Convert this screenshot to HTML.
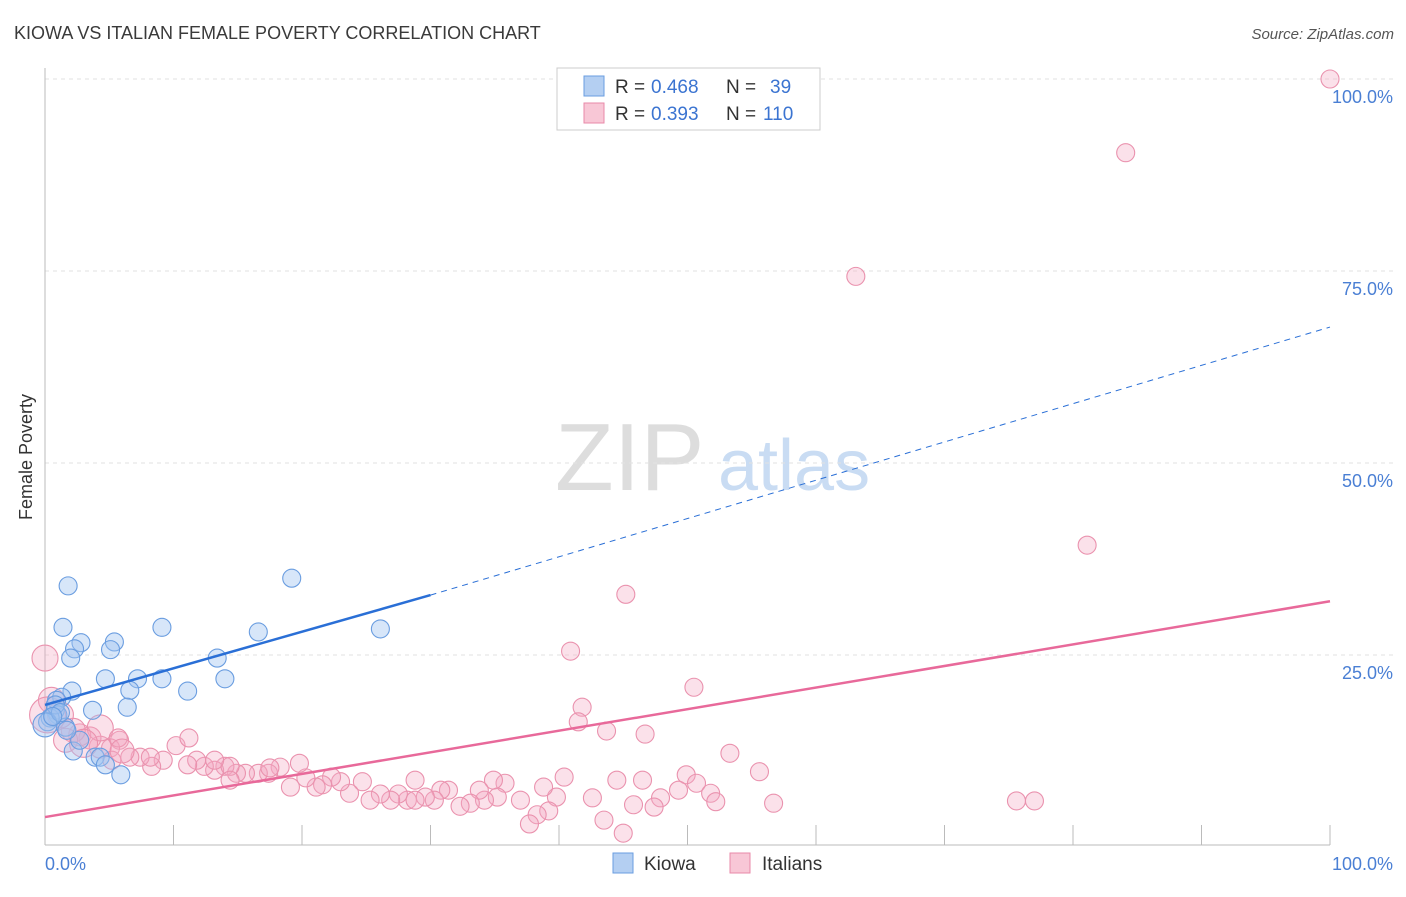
<!DOCTYPE html>
<html><head><meta charset="utf-8"><style>
body{margin:0;background:#fff;font-family:"Liberation Sans",sans-serif;}
svg text{font-family:"Liberation Sans",sans-serif;}
</style></head><body>
<svg id="c" width="1406" height="892" xmlns="http://www.w3.org/2000/svg">
<text x="14" y="39" font-size="18" fill="#3a3a3a">KIOWA VS ITALIAN FEMALE POVERTY CORRELATION CHART</text>
<text x="1394" y="39" font-size="15" fill="#555" text-anchor="end" font-style="italic">Source: ZipAtlas.com</text>
<text x="32" y="457" font-size="18" fill="#333" text-anchor="middle" transform="rotate(-90 32 457)">Female Poverty</text>
<text x="555" y="490" font-size="96" fill="#ddd" font-family="Liberation Serif">ZIP</text>
<text x="718" y="490" font-size="72" fill="#c9dcf3">atlas</text>
<g id="grid"></g><g id="axes"></g><g id="pts"></g><g id="lines"></g>
<g>
<rect x="557" y="68" width="263" height="62" fill="#fff" stroke="#ccc"/>
<rect x="584" y="76" width="20" height="20" fill="#b4cff2" stroke="#6a9de0"/>
<text y="93" font-size="19" fill="#333"><tspan x="615">R =</tspan><tspan x="651" fill="#3b74d1">0.468</tspan><tspan x="726">N =</tspan><tspan x="770" fill="#3b74d1">39</tspan></text>
<rect x="584" y="103" width="20" height="20" fill="#f8c7d6" stroke="#e88aa8"/>
<text y="120" font-size="19" fill="#333"><tspan x="615">R =</tspan><tspan x="651" fill="#3b74d1">0.393</tspan><tspan x="726">N =</tspan><tspan x="763" fill="#3b74d1">110</tspan></text>
</g>
<g>
<rect x="613" y="853" width="20" height="20" fill="#b4cff2" stroke="#6a9de0"/>
<text x="644" y="870" font-size="19" fill="#333">Kiowa</text>
<rect x="730" y="853" width="20" height="20" fill="#f8c7d6" stroke="#e88aa8"/>
<text x="762" y="870" font-size="19" fill="#333">Italians</text>
</g>
</svg>
<script>
const yTicks=[0,25,50,75,100];
const yTickLabels=["","25.0%","50.0%","75.0%","100.0%"];
const xTickLabels=["0.0%","100.0%"];
const kiowaX=[1.8,1.4,2.8,5.4,2.3,5.1,2.0,9.1,16.6,19.2,26.1,13.4,4.7,7.2,9.1,6.6,11.1,14.0,2.1,1.3,3.7,6.4,0.9,0.8,1.0,0.4,0.2,1.6,2.2,3.9,4.3,4.7,5.9,2.7,0,0.8,1.2,0.6,1.7];
const kiowaY=[34.0,28.6,26.6,26.7,25.8,25.7,24.6,28.6,28.0,35.0,28.4,24.6,21.9,21.9,21.9,20.4,20.3,21.9,20.3,19.5,17.8,18.2,19.1,17.8,17.2,16.8,16.3,15.6,12.5,11.7,11.7,10.7,9.4,13.9,15.9,18.5,17.5,17.0,15.2];
const italX=[100,84.1,63.1,81.1,45.2,40.9,41.8,41.5,43.7,46.7,50.5,53.3,55.6,56.7,75.6,77.0,49.9,50.7,51.8,52.2,49.3,47.9,47.4,46.5,45.8,45.0,44.5,43.5,42.6,40.4,39.8,39.2,38.3,37.7,38.8,37.0,35.8,34.9,35.2,34.2,33.8,33.1,32.3,31.4,30.8,30.3,29.6,28.8,28.2,27.5,26.9,26.1,25.3,24.7,23.7,23.0,22.3,21.6,21.1,20.3,19.8,19.1,18.3,17.4,16.6,15.6,14.9,14.0,13.2,12.4,11.8,11.1,10.2,9.2,8.3,7.4,6.6,5.8,5.1,4.3,3.5,2.7,2.2,1.2,0.5,0,0.2,1.6,14.4,11.2,17.5,13.2,28.8,14.4,8.2,4.3,5.2,5.7,3.0,6.0];
const italY=[100,90.4,74.3,39.3,32.9,25.5,18.2,16.3,15.1,14.7,20.8,12.2,9.8,5.7,6.0,6.0,9.4,8.3,7.0,5.9,7.4,6.4,5.2,8.7,5.5,1.8,8.7,3.5,6.4,9.1,6.5,4.7,4.2,3.0,7.8,6.1,8.3,8.7,6.5,6.1,7.4,5.7,5.3,7.4,7.4,6.1,6.5,8.7,6.1,6.9,6.1,6.9,6.1,8.5,7.0,8.5,9.1,8.1,7.8,9.0,10.9,7.8,10.4,9.6,9.6,9.6,9.6,10.5,10.0,10.5,11.3,10.7,13.2,11.3,10.5,11.7,11.7,13.9,12.9,13.0,14.2,14.6,15.2,17.2,19.1,24.6,17.2,13.9,10.5,14.2,10.3,11.3,6.1,8.7,11.7,15.5,11.3,14.2,13.5,12.5];
const italR=[9,9,9,9,9,9,9,9,9,9,9,9,9,9,9,9,9,9,9,9,9,9,9,9,9,9,9,9,9,9,9,9,9,9,9,9,9,9,9,9,9,9,9,9,9,9,9,9,9,9,9,9,9,9,9,9,9,9,9,9,9,9,9,9,9,9,9,9,9,9,9,9,9,9,9,9,9,9,9,11,11,11,12,13,13,13,18,12,9,9,9,9,9,9,9,13,9,9,14,12];
const kiowaTrend=[18.5,32.8,67.7];
const italTrend=[3.9,32.0];
const X=v=>45+v*12.85, Y=v=>847-v*7.68;
const NS="http://www.w3.org/2000/svg";
function mk(p,t,a){const e=document.createElementNS(NS,t);for(const k in a)e.setAttribute(k,a[k]);document.getElementById(p).appendChild(e);return e;}
yTicks.forEach((t,i)=>{if(t>0){
const g=mk('grid','line',{x1:45,x2:1393,y1:Y(t),y2:Y(t),stroke:'#e2e2e2','stroke-dasharray':'4,4'});


const l=mk('grid','text',{x:1393,y:Y(t)+24,'text-anchor':'end','font-size':18,fill:'#4a7fd4'});l.textContent=yTickLabels[i];

}});
const ax=mk('axes','line',{x1:45,x2:1330,y1:845,y2:845,stroke:'#bbb'});


const ay=mk('axes','line',{x1:45,x2:45,y1:68,y2:845,stroke:'#bbb'});


for(let i=1;i<=10;i++){const t=mk('axes','line',{x1:X(i*10),x2:X(i*10),y1:825,y2:845,stroke:'#bbb'});

}
[[0,'start',45],[100,'end',1393]].forEach((d,i)=>{const l=mk('axes','text',{x:d[2],y:870,'text-anchor':d[1],'font-size':18,fill:'#4a7fd4'});l.textContent=xTickLabels[i];

});
italX.forEach((v,i)=>{const c=mk('pts','circle',{cx:X(v),cy:Y(italY[i]),r:italR[i],fill:'rgba(244,168,194,0.35)',stroke:'#ea92ae','stroke-width':1.1});

});
kiowaX.forEach((v,i)=>{const c=mk('pts','circle',{cx:X(v),cy:Y(kiowaY[i]),r:i==34?12:9,fill:'rgba(160,196,240,0.42)',stroke:'#6a9de0','stroke-width':1.1});

});
const k1=mk('lines','line',{x1:X(0),y1:Y(kiowaTrend[0]),x2:X(30),y2:Y(kiowaTrend[1]),stroke:'#2a6fd6','stroke-width':2.5});


const k2=mk('lines','line',{x1:X(30),y1:Y(kiowaTrend[1]),x2:X(100),y2:Y(kiowaTrend[2]),stroke:'#2a6fd6','stroke-width':1,'stroke-dasharray':'6,5'});


const p1=mk('lines','line',{x1:X(0),y1:Y(italTrend[0]),x2:X(100),y2:Y(italTrend[1]),stroke:'#e8699a','stroke-width':2.5});


</script>
</body></html>
